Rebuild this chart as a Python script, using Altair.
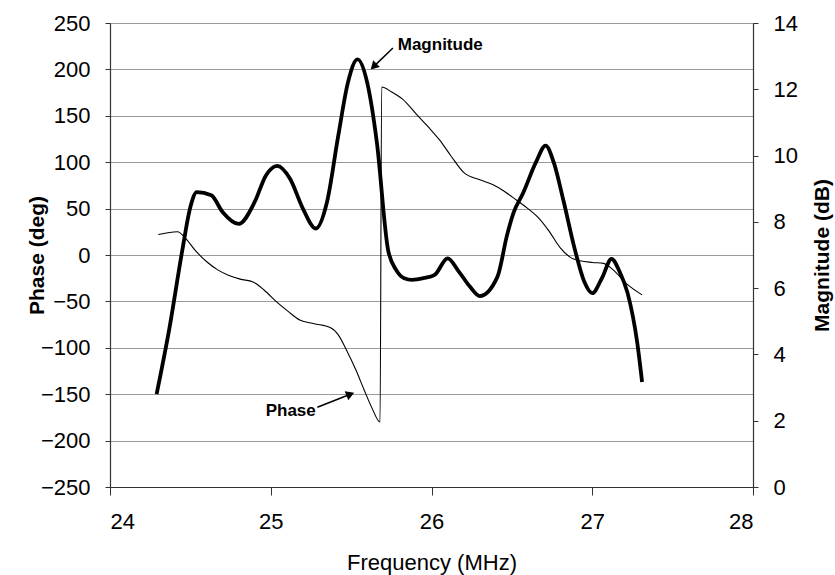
import altair as alt
import pandas as pd

# Magnitude response (dB) versus frequency (MHz)
mag_freq = [24.29, 24.37, 24.45, 24.50, 24.54, 24.63, 24.70, 24.80, 24.90, 24.97,
            25.04, 25.12, 25.20, 25.28, 25.35, 25.42, 25.48, 25.54, 25.60, 25.66,
            25.73, 25.78, 25.83, 25.88, 25.95, 26.02, 26.10, 26.17, 26.24, 26.30,
            26.41, 26.47, 26.51, 26.57, 26.65, 26.71, 26.76, 26.82, 26.89, 26.95,
            27.00, 27.06, 27.12, 27.17, 27.22, 27.28, 27.31]
mag_db = [2.8, 4.8, 7.15, 8.45, 8.9, 8.8, 8.3, 7.94, 8.6, 9.4,
          9.69, 9.3, 8.4, 7.8, 8.6, 10.6, 12.2, 12.9, 12.2, 10.4,
          7.15, 6.55, 6.3, 6.25, 6.3, 6.4, 6.9, 6.5, 6.04, 5.76,
          6.34, 7.6, 8.27, 8.87, 9.8, 10.3, 9.8, 8.66, 7.2, 6.2,
          5.85, 6.3, 6.88, 6.5, 5.85, 4.35, 3.17]

# Phase response (deg) versus frequency (MHz)
phase_freq = [24.30, 24.36, 24.42, 24.47, 24.53, 24.60, 24.67, 24.74, 24.81, 24.89,
              24.96, 25.04, 25.11, 25.18, 25.27, 25.37, 25.42, 25.47, 25.53, 25.58,
              25.63, 25.68, 25.69, 25.75, 25.82, 25.91, 25.98, 26.05, 26.12, 26.20,
              26.30, 26.38, 26.45, 26.53, 26.60, 26.66, 26.73, 26.80, 26.88, 27.00,
              27.07, 27.13, 27.22, 27.31]
phase_deg = [22, 24, 25, 18, 5, -7, -16, -22, -26, -29,
             -38, -51, -61, -70, -74, -78, -86, -102, -124, -145,
             -165, -180, 181, 176, 168, 151, 138, 124, 107, 89,
             81, 76, 69, 59, 50, 41, 26, 8, -4, -8,
             -9, -16, -32, -43]

freq_ticks = [24, 25, 26, 27, 28]
phase_ticks = list(range(-250, 251, 50))
mag_ticks = list(range(0, 15, 2))

FONT = "Liberation Sans"

mag_df = pd.DataFrame({"freq": mag_freq, "mag": mag_db})
phase_df = pd.DataFrame({"freq": phase_freq, "phase": phase_deg})

x_scale = alt.Scale(domain=[24, 28], nice=False, zero=False)
phase_scale = alt.Scale(domain=[-250, 250], nice=False, zero=False)
mag_scale = alt.Scale(domain=[0, 14], nice=False, zero=False)

x_axis = alt.Axis(values=freq_ticks, title="Frequency (MHz)", grid=False,
                  tickSize=8, labelPadding=16, labelFontSize=22,
                  titleFontWeight="normal", titleFontSize=22,
                  titleX=321.5, titleY=75, titleBaseline="middle")


def xenc():
    return alt.X("freq:Q", scale=x_scale, axis=x_axis)


phase_line = alt.Chart(phase_df).mark_line(
    color="black", strokeWidth=1.1, interpolate="monotone"
).encode(
    x=xenc(),
    y=alt.Y("phase:Q", scale=phase_scale,
            axis=alt.Axis(orient="left", values=phase_ticks, title="Phase (deg)",
                          grid=True, tickSize=5, labelPadding=15, labelFontSize=22,
                          titleFontSize=21, titleFontWeight="bold", titleAngle=270,
                          titleX=-73, titleY=232, titleAlign="center",
                          titleBaseline="middle")),
)

mag_line = alt.Chart(mag_df).mark_line(
    color="black", strokeWidth=3.8, interpolate="monotone"
).encode(
    x=xenc(),
    y=alt.Y("mag:Q", scale=mag_scale,
            axis=alt.Axis(orient="right", values=mag_ticks, title="Magnitude (dB)",
                          grid=False, tickSize=5, labelPadding=15, labelFontSize=22,
                          titleFontSize=21, titleFontWeight="bold", titleAngle=270,
                          titleX=69, titleY=232, titleAlign="center",
                          titleBaseline="middle")),
)


# Callout labels and arrows, placed in frequency / phase coordinates
def yann():
    return alt.Y("phase:Q", scale=phase_scale, axis=None)


mag_label = alt.Chart(pd.DataFrame({"freq": [25.79], "phase": [226], "t": ["Magnitude"]})).mark_text(
    align="left", baseline="middle", font=FONT, fontSize=17, fontWeight="bold", color="black"
).encode(x=xenc(), y=yann(), text="t:N")

phase_label = alt.Chart(pd.DataFrame({"freq": [25.28], "phase": [-168], "t": ["Phase"]})).mark_text(
    align="right", baseline="middle", font=FONT, fontSize=17, fontWeight="bold", color="black"
).encode(x=xenc(), y=yann(), text="t:N")

arrow_df = pd.DataFrame({
    "freq": [25.76, 25.64, 25.29, 25.495],
    "phase": [223, 203, -164, -150],
    "arrow": ["mag", "mag", "phase", "phase"],
})
arrow_shafts = alt.Chart(arrow_df).mark_line(color="black", strokeWidth=1.5).encode(
    x=xenc(), y=yann(), detail="arrow:N"
)

mag_head = alt.Chart(pd.DataFrame({"freq": [25.64], "phase": [203]})).mark_point(
    shape="triangle-up", filled=True, color="black", size=90, angle=225, opacity=1
).encode(x=xenc(), y=yann())

phase_head = alt.Chart(pd.DataFrame({"freq": [25.495], "phase": [-150]})).mark_point(
    shape="triangle-up", filled=True, color="black", size=90, angle=68, opacity=1
).encode(x=xenc(), y=yann())

chart = alt.layer(
    phase_line, mag_line, mag_label, phase_label, arrow_shafts, mag_head, phase_head
).resolve_scale(
    y="independent"
).properties(
    width=643, height=464,
    autosize=alt.AutoSizeParams(type="none"),
    padding={"left": 110, "top": 23, "right": 82, "bottom": 88},
    background="white",
).configure_view(
    stroke=None
).configure_axis(
    labelFont=FONT, titleFont=FONT, labelColor="black", titleColor="black",
    domainColor="#333", tickColor="#333", gridColor="#999999", gridWidth=1,
    domainWidth=1.2,
)

chart.save("out.html", embed_options={"renderer": "svg", "actions": False})
